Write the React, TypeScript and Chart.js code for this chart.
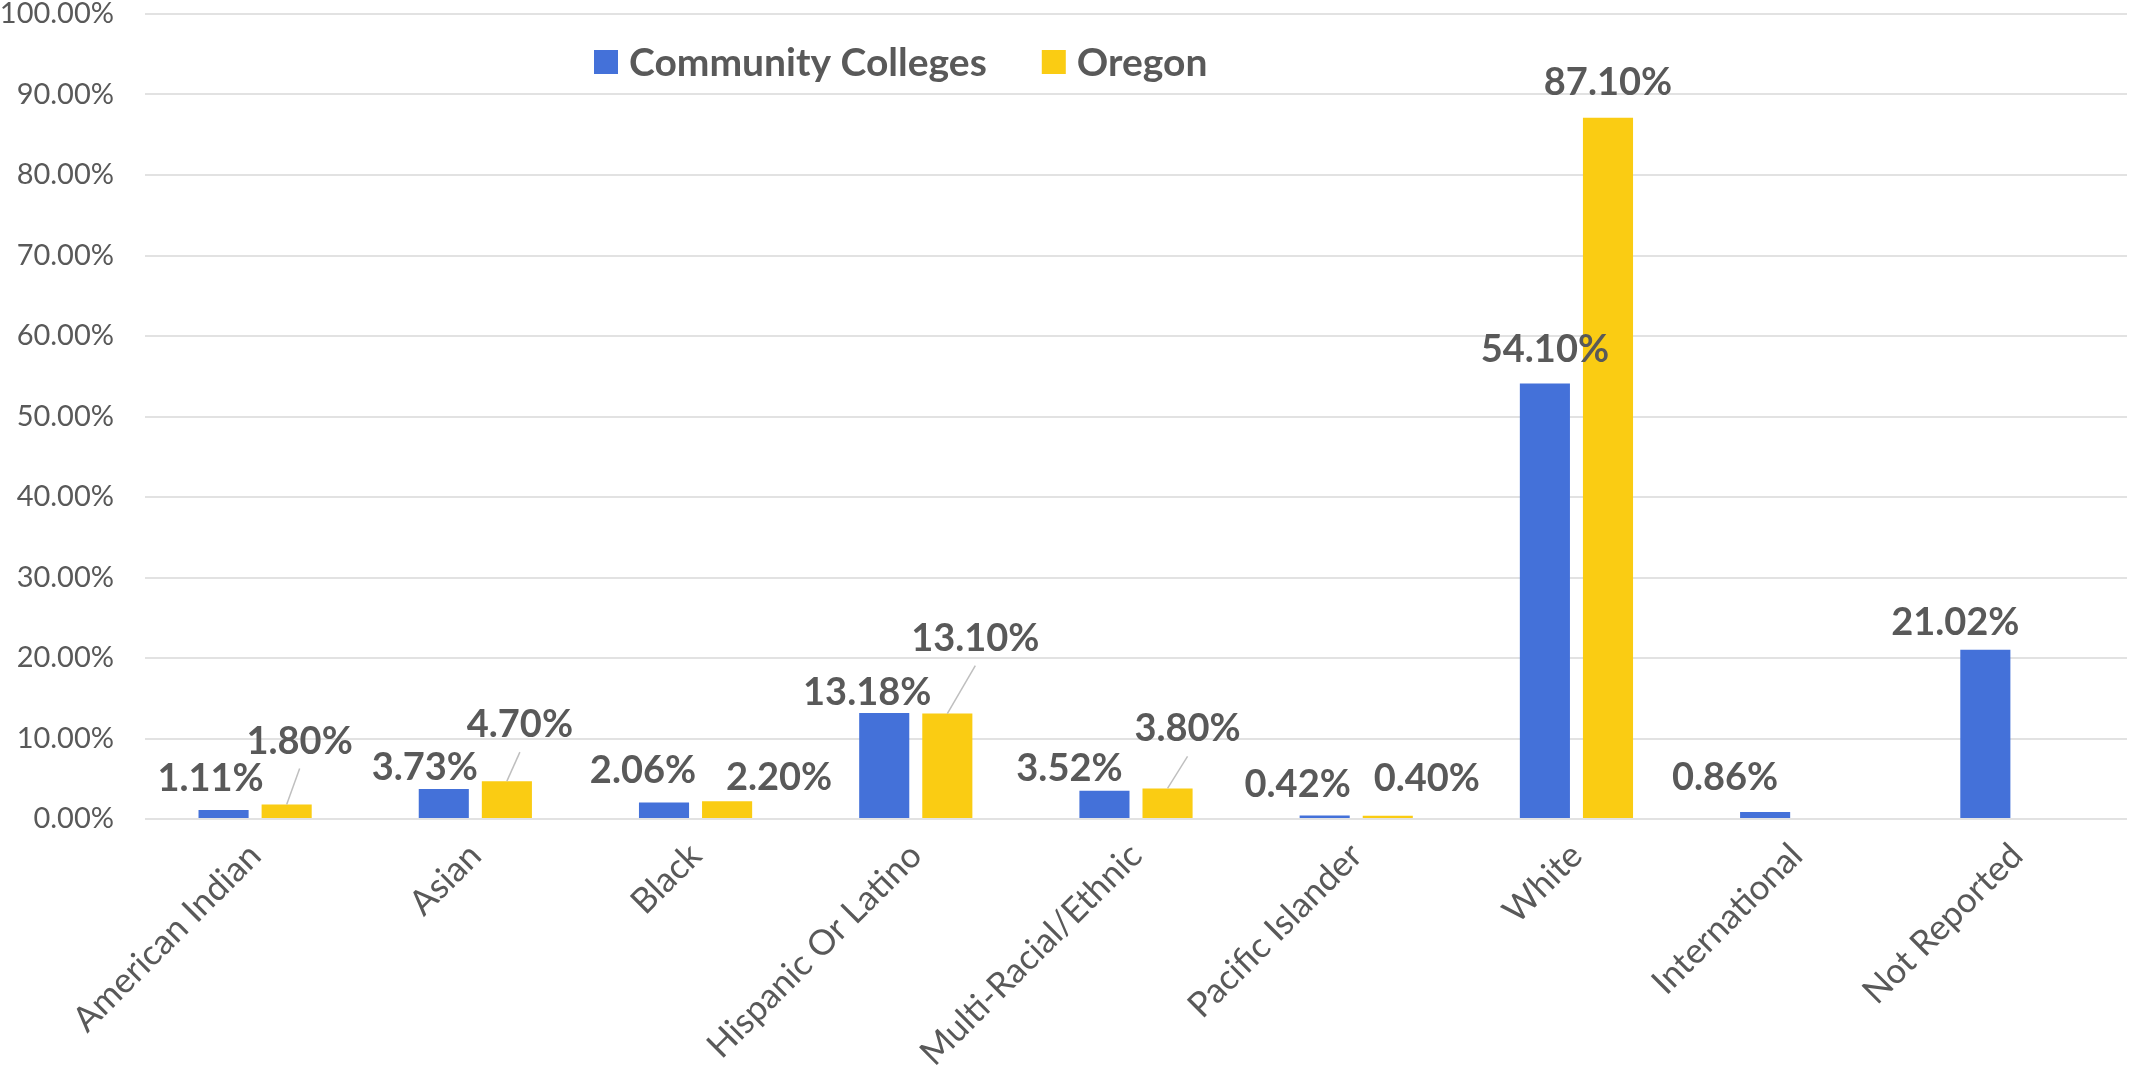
import React, { useEffect, useRef } from "react";
import { Chart, registerables } from "chart.js";

Chart.register(...registerables);

const categories = [
  "American Indian",
  "Asian",
  "Black",
  "Hispanic Or Latino",
  "Multi-Racial/Ethnic",
  "Pacific Islander",
  "White",
  "International",
  "Not Reported",
];
const communityColleges = [1.11, 3.73, 2.06, 13.18, 3.52, 0.42, 54.1, 0.86, 21.02];
const oregon: (number | null)[] = [1.8, 4.7, 2.2, 13.1, 3.8, 0.4, 87.1, null, null];
const seriesNames = ["Community Colleges", "Oregon"];
const yTicks = { min: 0, max: 100, step: 10 };

// label placement (style): horizontal shift and gap above bar top
const ccLabelDx = [-13, -19, -21, -17, -35, -27, 0, -40, -30];
const ccLabelGap = [19, 9, 19, 8, 10, 19, 21, 22, 15];
const orLabelDx = [13, 13, 52, 28, 20, 39, 0, 0, 0];
const orLabelGap = [51, 44, 11, 63, 47, 25, 23, 0, 0];
const orLeader = [true, true, false, true, true, false, false, false, false];

const BLUE = "#4471D9";
const YELLOW = "#FACC13";
const TEXT = "#595959";
const FONT = "Lato, 'Open Sans', sans-serif";

const labelPlugin = {
  id: "valueLabels",
  afterDatasetsDraw(chart: any) {
    const ctx = chart.ctx;
    ctx.save();
    ctx.font = `bold 38px ${FONT}`;
    ctx.fillStyle = TEXT;
    ctx.textAlign = "center";
    ctx.textBaseline = "alphabetic";
    chart.data.datasets.forEach((ds: any, di: number) => {
      const meta = chart.getDatasetMeta(di);
      meta.data.forEach((el: any, i: number) => {
        const v = ds.data[i];
        if (v === null || v === undefined) return;
        const dx = di === 0 ? ccLabelDx[i] : orLabelDx[i];
        const gap = di === 0 ? ccLabelGap[i] : orLabelGap[i];
        const lx = el.x + dx;
        const ly = el.y - gap;
        ctx.fillText(v.toFixed(2) + "%", lx, ly);
        if (di === 1 && orLeader[i]) {
          ctx.beginPath();
          ctx.strokeStyle = "#BFBFBF";
          ctx.lineWidth = 1.5;
          ctx.moveTo(lx, ly + 15);
          ctx.lineTo(el.x, el.y);
          ctx.stroke();
        }
      });
    });
    ctx.restore();
  },
};

const legendPlugin = {
  id: "customLegend",
  afterDraw(chart: any) {
    const ctx = chart.ctx;
    const area = chart.chartArea;
    ctx.save();
    ctx.font = `bold 39px ${FONT}`;
    ctx.textBaseline = "middle";
    ctx.textAlign = "left";
    const cy = 62;
    let x = area.left + 449;
    const colors = [BLUE, YELLOW];
    seriesNames.forEach((name, i) => {
      ctx.fillStyle = colors[i];
      ctx.fillRect(x, cy - 12, 24, 24);
      ctx.fillStyle = TEXT;
      ctx.fillText(name, x + 35, cy + 1);
      x += 35 + ctx.measureText(name).width + 55;
    });
    ctx.restore();
  },
};

export default function App() {
  const ref = useRef<HTMLCanvasElement>(null);
  useEffect(() => {
    if (!ref.current) return;
    const chart = new Chart(ref.current, {
      type: "bar",
      data: {
        labels: categories,
        datasets: [
          {
            label: seriesNames[0],
            data: communityColleges,
            backgroundColor: BLUE,
            categoryPercentage: 0.573,
            barPercentage: 0.794,
          },
          {
            label: seriesNames[1],
            data: oregon,
            backgroundColor: YELLOW,
            categoryPercentage: 0.573,
            barPercentage: 0.794,
          },
        ],
      },
      options: {
        responsive: false,
        animation: false,
        layout: { padding: { top: 14, right: 4, left: 0, bottom: 0 } },
        plugins: {
          legend: { display: false },
          tooltip: { enabled: false },
        },
        scales: {
          x: {
            grid: { display: false },
            border: { display: false },
            ticks: {
              color: TEXT,
              font: { family: FONT, size: 35 },
              maxRotation: 45,
              minRotation: 45,
              padding: 8,
              autoSkip: false,
            },
            afterFit: (scale: any) => {
              scale.height = 250;
              scale.paddingTop = 0;
              scale.paddingLeft = 0;
              scale.paddingRight = 0;
            },
          },
          y: {
            min: yTicks.min,
            max: yTicks.max,
            ticks: {
              stepSize: yTicks.step,
              color: TEXT,
              font: { family: FONT, size: 29 },
              padding: 31,
              callback: (v: any) => Number(v).toFixed(2) + "%",
            },
            grid: { color: "#E2E2E2", lineWidth: 2, drawTicks: false },
            border: { display: false },
            afterFit: (scale: any) => {
              scale.width = 145;
              scale.paddingTop = 0;
              scale.paddingBottom = 0;
            },
          },
        },
      },
      plugins: [labelPlugin, legendPlugin],
    });
    return () => chart.destroy();
  }, []);
  return (
    <div style={{ position: "fixed", left: 0, top: 0, width: 2131, height: 1069, background: "#fff" }}>
      <canvas ref={ref} width={2131} height={1069} style={{ display: "block" }} />
    </div>
  );
}
